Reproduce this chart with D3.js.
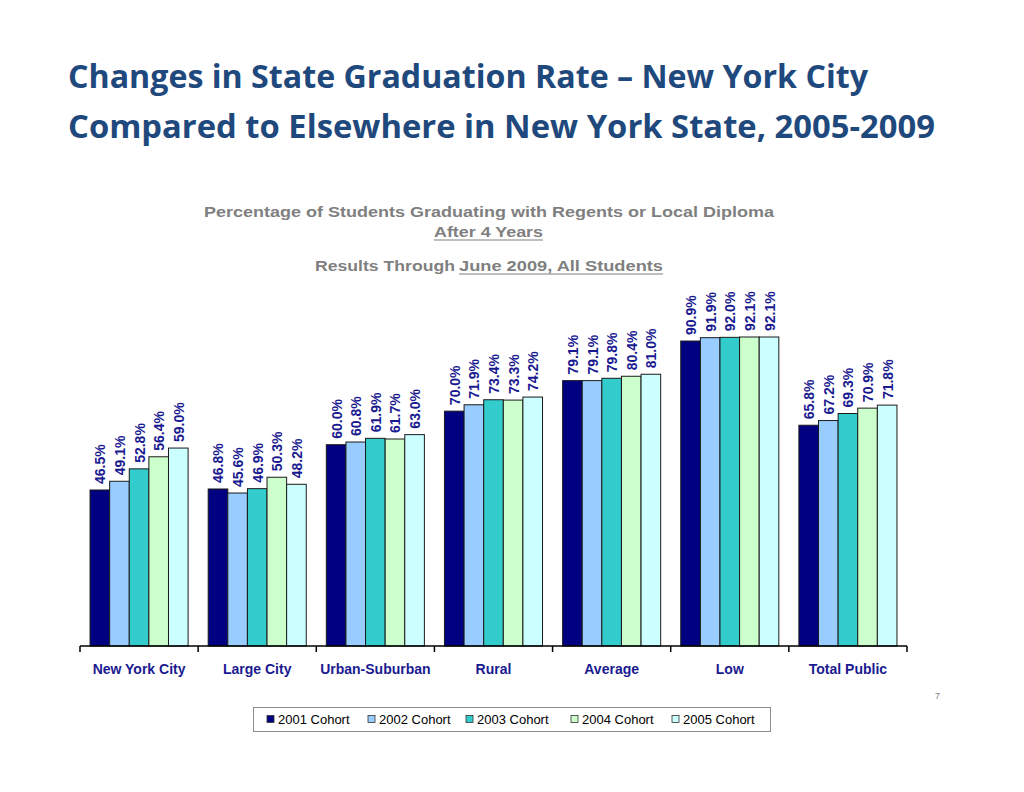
<!DOCTYPE html>
<html>
<head>
<meta charset="utf-8">
<script src="https://cdn.jsdelivr.net/npm/d3@7"></script>
<style>
  html, body { margin: 0; padding: 0; background: #ffffff; }
  svg { display: block; }
</style>
</head>
<body>
<svg id="chart" width="1024" height="792"></svg>
<script>
// ---- data ----
const categories = ["New York City", "Large City", "Urban-Suburban", "Rural", "Average", "Low", "Total Public"];
const seriesNames = ["2001 Cohort", "2002 Cohort", "2003 Cohort", "2004 Cohort", "2005 Cohort"];
const cohort2001 = [46.5, 46.8, 60.0, 70.0, 79.1, 90.9, 65.8];
const cohort2002 = [49.1, 45.6, 60.8, 71.9, 79.1, 91.9, 67.2];
const cohort2003 = [52.8, 46.9, 61.9, 73.4, 79.8, 92.0, 69.3];
const cohort2004 = [56.4, 50.3, 61.7, 73.3, 80.4, 92.1, 70.9];
const cohort2005 = [59.0, 48.2, 63.0, 74.2, 81.0, 92.1, 71.8];
const seriesValues = [cohort2001, cohort2002, cohort2003, cohort2004, cohort2005];
const seriesColors = ["#000080", "#99CCFF", "#33CCCC", "#CCFFCC", "#CCFFFF"];

const svg = d3.select("#chart");

// ---- title ----
const titleColor = "#1F497D";
svg.append("text").attr("x", 68).attr("y", 88)
  .attr("font-family", "'Open Sans', sans-serif").attr("font-weight", "bold").attr("font-size", 32)
  .attr("fill", titleColor).attr("textLength", 800).attr("lengthAdjust", "spacingAndGlyphs")
  .text("Changes in State Graduation Rate \u2013 New York City");
svg.append("text").attr("x", 68).attr("y", 138)
  .attr("font-family", "'Open Sans', sans-serif").attr("font-weight", "bold").attr("font-size", 32)
  .attr("fill", titleColor).attr("textLength", 867).attr("lengthAdjust", "spacingAndGlyphs")
  .text("Compared to Elsewhere in New York State, 2005-2009");

// ---- subtitle ----
const subColor = "#7F7F7F";
const subFont = "'Liberation Sans', Arial, sans-serif";
svg.append("text").attr("x", 204).attr("y", 217)
  .attr("font-family", subFont).attr("font-weight", "bold").attr("font-size", 15.5)
  .attr("fill", subColor).attr("textLength", 570).attr("lengthAdjust", "spacingAndGlyphs")
  .text("Percentage of Students Graduating with Regents or Local Diploma");
svg.append("text").attr("x", 434).attr("y", 237)
  .attr("font-family", subFont).attr("font-weight", "bold").attr("font-size", 15.5)
  .attr("fill", subColor).attr("textLength", 109).attr("lengthAdjust", "spacingAndGlyphs")
  .text("After 4 Years");
svg.append("line").attr("x1", 434).attr("x2", 543).attr("y1", 240).attr("y2", 240)
  .attr("stroke", subColor).attr("stroke-width", 1);
svg.append("text").attr("x", 315).attr("y", 271)
  .attr("font-family", subFont).attr("font-weight", "bold").attr("font-size", 15.5)
  .attr("fill", subColor).attr("textLength", 140).attr("lengthAdjust", "spacingAndGlyphs")
  .text("Results Through");
svg.append("text").attr("x", 459).attr("y", 271)
  .attr("font-family", subFont).attr("font-weight", "bold").attr("font-size", 15.5)
  .attr("fill", subColor).attr("textLength", 204).attr("lengthAdjust", "spacingAndGlyphs")
  .text("June 2009, All Students");
svg.append("line").attr("x1", 459).attr("x2", 663).attr("y1", 274).attr("y2", 274)
  .attr("stroke", subColor).attr("stroke-width", 1);

// ---- scales ----
const x0 = d3.scaleBand().domain(categories).range([80, 907]).paddingInner(0.17).paddingOuter(0.085);
const x1 = d3.scaleBand().domain(seriesNames).range([0, x0.bandwidth()]).padding(0);
const y = d3.scaleLinear().domain([0, 100]).range([646, 310.5]);

const g = svg.append("g");
seriesNames.forEach((s, si) => {
  const vals = seriesValues[si];
  g.selectAll(null).data(categories).enter().append("rect")
    .attr("x", c => x0(c) + x1(s))
    .attr("y", (c, i) => y(vals[i]))
    .attr("width", x1.bandwidth())
    .attr("height", (c, i) => y(0) - y(vals[i]))
    .attr("fill", seriesColors[si])
    .attr("stroke", "#1a1a1a").attr("stroke-width", 1);
});

// value labels
const labelColor = "#1A1A90";
seriesNames.forEach((s, si) => {
  const vals = seriesValues[si];
  g.selectAll(null).data(categories).enter().append("text")
    .attr("transform", (c, i) => {
      const cx = x0(c) + x1(s) + x1.bandwidth() / 2 + 5.5;
      const cy = y(vals[i]) - 6;
      return `translate(${cx},${cy}) rotate(-90)`;
    })
    .attr("font-family", subFont).attr("font-weight", "bold").attr("font-size", 14)
    .attr("fill", labelColor)
    .text((c, i) => vals[i].toFixed(1) + "%");
});

// axis
const axisY = 646;
svg.append("line").attr("x1", 80).attr("x2", 907).attr("y1", axisY).attr("y2", axisY)
  .attr("stroke", "#000").attr("stroke-width", 1.5);
const tickXs = d3.range(categories.length + 1).map(i => 80 + i * (827 / categories.length));
svg.selectAll(null).data(tickXs).enter().append("line")
  .attr("x1", d => d).attr("x2", d => d).attr("y1", axisY).attr("y2", axisY + 6)
  .attr("stroke", "#000").attr("stroke-width", 1.5);
svg.selectAll(null).data(categories).enter().append("text")
  .attr("x", c => x0(c) + x0.bandwidth() / 2)
  .attr("y", 674)
  .attr("text-anchor", "middle")
  .attr("font-family", subFont).attr("font-weight", "bold").attr("font-size", 14)
  .attr("fill", labelColor)
  .text(c => c);

// page number
svg.append("text").attr("x", 935).attr("y", 699).attr("font-family", subFont)
  .attr("font-size", 9).attr("fill", "#7F7F7F").text("7");

// legend
svg.append("rect").attr("x", 253.5).attr("y", 707.5).attr("width", 517).attr("height", 24)
  .attr("fill", "#fff").attr("stroke", "#8c8c8c").attr("stroke-width", 1);
const legendXs = [267, 368, 466, 571, 672];
seriesNames.forEach((s, si) => {
  svg.append("rect").attr("x", legendXs[si]).attr("y", 715.5).attr("width", 7).attr("height", 7)
    .attr("fill", seriesColors[si]).attr("stroke", "#333").attr("stroke-width", 0.8);
  svg.append("text").attr("x", legendXs[si] + 11).attr("y", 723.5)
    .attr("font-family", subFont).attr("font-size", 13).attr("fill", "#000").text(s);
});
</script>
</body>
</html>
